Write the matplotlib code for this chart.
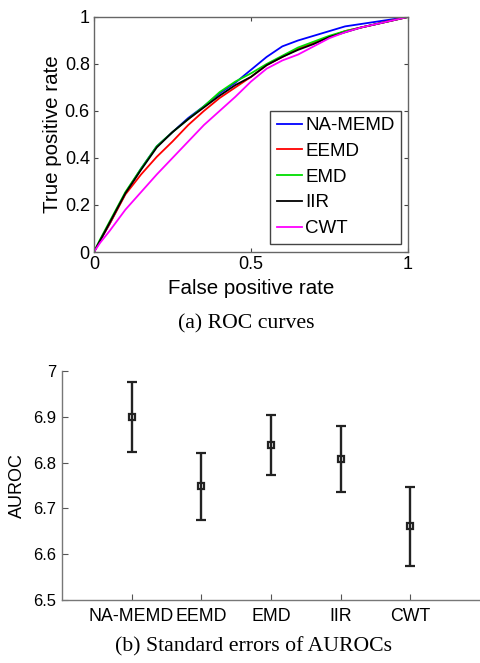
import matplotlib
matplotlib.use("Agg")
import matplotlib.pyplot as plt

# ROC curves: false positive rate grid and true positive rates per method
fpr = [0.0, 0.02, 0.05, 0.10, 0.15, 0.20, 0.25, 0.30, 0.35, 0.40, 0.45,
       0.50, 0.55, 0.60, 0.65, 0.70, 0.75, 0.80, 0.85, 0.90, 0.95, 1.0]
tpr_na_memd = [0.0, 0.05, 0.12, 0.25, 0.355, 0.45, 0.51, 0.57, 0.62, 0.675, 0.72,
               0.775, 0.83, 0.875, 0.90, 0.92, 0.94, 0.96, 0.97, 0.98, 0.99, 1.0]
tpr_eemd = [0.0, 0.05, 0.12, 0.245, 0.33, 0.405, 0.47, 0.54, 0.60, 0.655, 0.70,
            0.745, 0.795, 0.83, 0.865, 0.89, 0.915, 0.94, 0.955, 0.97, 0.985, 1.0]
tpr_emd = [0.0, 0.055, 0.13, 0.255, 0.355, 0.45, 0.51, 0.565, 0.62, 0.68, 0.725,
           0.76, 0.80, 0.835, 0.87, 0.895, 0.92, 0.94, 0.955, 0.97, 0.985, 1.0]
tpr_iir = [0.0, 0.05, 0.125, 0.25, 0.35, 0.445, 0.51, 0.565, 0.615, 0.665, 0.71,
           0.745, 0.795, 0.83, 0.86, 0.885, 0.915, 0.935, 0.955, 0.97, 0.985, 1.0]
tpr_cwt = [0.0, 0.04, 0.09, 0.18, 0.255, 0.33, 0.40, 0.47, 0.54, 0.60, 0.66,
           0.725, 0.78, 0.815, 0.84, 0.875, 0.91, 0.935, 0.955, 0.97, 0.985, 1.0]

roc_labels = ["NA-MEMD", "EEMD", "EMD", "IIR", "CWT"]
roc_colors = ["#0000ff", "#ff0000", "#00dd00", "#000000", "#ff00ff"]

# AUROC means and standard errors
methods = ["NA-MEMD", "EEMD", "EMD", "IIR", "CWT"]
auroc = [6.900, 6.748, 6.838, 6.807, 6.661]
auroc_se = [0.076, 0.073, 0.066, 0.072, 0.086]

sans = ["Liberation Sans", "DejaVu Sans"]
serif = ["Liberation Serif", "DejaVu Serif"]

fig = plt.figure(figsize=(4.8, 6.63), dpi=100)

# ---- (a) ROC curves ----
ax1 = fig.add_axes([0.1958, 0.6199, 0.654, 0.3545])
curves = [tpr_na_memd, tpr_eemd, tpr_emd, tpr_iir, tpr_cwt]
for tpr, lab, col in zip(curves, roc_labels, roc_colors):
    ax1.plot(fpr, tpr, color=col, lw=1.3, label=lab)
ax1.set_xlim(0, 1)
ax1.set_ylim(0, 1)
ax1.set_xticks([0, 0.5, 1])
ax1.set_xticklabels(["0", "0.5", "1"])
ax1.set_yticks([0, 0.2, 0.4, 0.6, 0.8, 1])
ax1.set_yticklabels(["0", "0.2", "0.4", "0.6", "0.8", "1"])
ax1.tick_params(direction="in", length=3, width=0.8, colors="#444444",
                labelcolor="black", labelsize=13, top=True, right=True, pad=3)
for lbl in ax1.get_xticklabels() + ax1.get_yticklabels():
    lbl.set_family(sans)
for sp in ax1.spines.values():
    sp.set_color("#666666")
    sp.set_linewidth(1.0)
ax1.set_xlabel("False positive rate", fontsize=14.8, family=sans, labelpad=4)
ax1.set_ylabel("True positive rate", fontsize=14.8, family=sans, labelpad=2)
leg = ax1.legend(loc="lower right", bbox_to_anchor=(0.978, 0.035),
                 prop={"family": sans, "size": 13.5}, handlelength=1.35,
                 handletextpad=0.15, labelspacing=0.46, borderpad=0.35,
                 borderaxespad=0.0, fancybox=False, framealpha=1)
leg.get_frame().set_edgecolor("#444444")
leg.get_frame().set_linewidth(1.0)

fig.text(0.513, 0.511, "(a) ROC curves", ha="center", va="center",
         fontsize=15.7, family=serif)

# ---- (b) Standard errors of AUROCs ----
ax2 = fig.add_axes([0.129, 0.095, 0.871, 0.3454])
xpos = list(range(1, len(methods) + 1))
ax2.errorbar(xpos, auroc, yerr=auroc_se, fmt="s", color="#222222",
             ecolor="#222222", elinewidth=1.7, capsize=3.5, capthick=1.6,
             markersize=4.5, markerfacecolor="none", markeredgewidth=1.6)
ax2.set_xlim(0, 6)
ax2.set_ylim(6.5, 7.0)
ax2.set_xticks(xpos)
ax2.set_xticklabels(methods)
ax2.set_yticks([6.5, 6.6, 6.7, 6.8, 6.9, 7.0])
ax2.set_yticklabels(["6.5", "6.6", "6.7", "6.8", "6.9", "7"])
ax2.tick_params(direction="in", length=4, width=0.8, colors="#555555",
                labelcolor="black", pad=4)
ax2.tick_params(axis="x", labelsize=12.8, pad=6)
ax2.tick_params(axis="y", labelsize=12)
for lbl in ax2.get_xticklabels() + ax2.get_yticklabels():
    lbl.set_family(sans)
ax2.spines["top"].set_visible(False)
ax2.spines["right"].set_visible(False)
for sp in ("left", "bottom"):
    ax2.spines[sp].set_color("#777777")
    ax2.spines[sp].set_linewidth(1.0)
ax2.set_ylabel("AUROC", fontsize=13, family=sans, labelpad=5)

fig.text(0.529, 0.025, "(b) Standard errors of AUROCs", ha="center", va="center",
         fontsize=15.7, family=serif)

fig.savefig("out.png", dpi=100)
